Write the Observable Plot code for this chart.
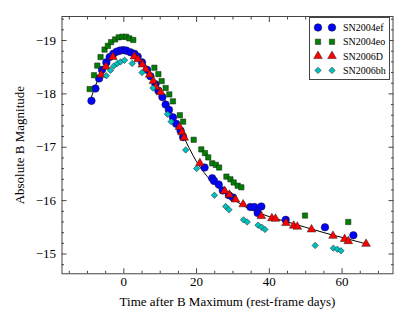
<!DOCTYPE html>
<html><head><meta charset="utf-8">
<script src="https://cdn.jsdelivr.net/npm/d3@7"></script>
<script src="https://cdn.jsdelivr.net/npm/@observablehq/plot@0.6"></script>
<style>
body{margin:0;background:#fff;}
#wrap{position:relative;width:415px;height:312px;font-family:"Liberation Serif","Times New Roman",serif;}
#legend{position:absolute;}
</style></head><body><div id="wrap"></div>
<script>
const seriesNames = ["SN2004ef", "SN2004eo", "SN2006D", "SN2006bh"];
const seriesColors = ["#0000ff", "#008000", "#ff0000", "#00bfbf"];
const seriesSymbols = ["circle", "square", "triangle", "diamond2"];
const seriesR = [3.8, 3.0, 3.2, 2.9];

const ef_t = [-8.9,-7.8,-6.8,-6.0,-4.8,-3.9,-2.9,-2.0,-1.1,-0.2,0.7,1.8,2.9,3.8,5.0,6.4,7.3,8.7,9.5,10.6,11.5,12.4,13.5,14.4,15.6,16.3,22.2,24.3,24.8,26.1,27.2,28.9,30.0,34.8,35.9,36.8,37.8,44.5,55.3,63.1];
const ef_m = [-17.87,-18.10,-18.29,-18.45,-18.59,-18.69,-18.75,-18.79,-18.81,-18.82,-18.81,-18.78,-18.75,-18.70,-18.59,-18.45,-18.33,-18.18,-18.06,-17.94,-17.80,-17.70,-17.56,-17.44,-17.31,-17.19,-16.62,-16.42,-16.37,-16.30,-16.19,-16.10,-16.06,-15.88,-15.88,-15.77,-15.89,-15.64,-15.50,-15.35];

const eo_t = [-9.4,-8.2,-7.3,-6.4,-5.3,-4.4,-3.5,-2.4,-1.4,-0.4,0.6,1.5,2.6,8.4,9.5,10.4,11.5,12.5,13.5,15.4,16.3,19.2,21.3,22.3,23.2,24.3,25.3,26.2,28.2,29.3,30.2,31.3,32.3,49.8,61.7];
const eo_m = [-18.09,-18.35,-18.53,-18.69,-18.83,-18.90,-18.97,-19.02,-19.06,-19.07,-19.07,-19.04,-19.01,-18.49,-18.37,-18.24,-18.11,-17.99,-17.86,-17.60,-17.48,-17.14,-16.96,-16.89,-16.81,-16.70,-16.67,-16.62,-16.45,-16.40,-16.34,-16.28,-16.25,-15.72,-15.60];

const d_t = [-6.2,-4.9,-3.0,2.9,3.9,5.1,6.0,7.1,8.1,8.8,10.1,15.3,16.0,16.6,20.9,27.7,29.0,30.7,32.8,37.8,40.7,41.7,44.6,46.7,47.7,51.6,57.5,60.7,61.7,66.6];
const d_m = [-18.36,-18.51,-18.69,-18.70,-18.65,-18.55,-18.46,-18.36,-18.24,-18.13,-18.03,-17.38,-17.28,-17.18,-16.70,-16.18,-16.11,-16.02,-15.93,-15.71,-15.67,-15.66,-15.58,-15.53,-15.51,-15.46,-15.34,-15.28,-15.24,-15.19];

const bh_t = [-4.8,-3.7,-2.8,-1.8,-0.9,0.2,2.3,5.0,8.0,12.0,13.0,17.0,20.0,24.9,28.0,28.9,32.9,33.9,36.9,37.9,38.8,52.6,57.6,58.7,59.7];
const bh_m = [-18.34,-18.44,-18.52,-18.57,-18.60,-18.63,-18.57,-18.40,-18.11,-17.62,-17.48,-16.95,-16.60,-16.10,-15.89,-15.83,-15.64,-15.60,-15.54,-15.50,-15.46,-15.16,-15.11,-15.09,-15.06];

const fit_t = [-9.4,-8,-6,-4,-2,0,2,4,6,8,10,12,14,16,18,20,22,24,26,28,30,33,36,40,45,50,55,60,66.6];
const fit_m = [-17.83,-18.12,-18.42,-18.64,-18.77,-18.80,-18.77,-18.66,-18.48,-18.26,-18.04,-17.79,-17.53,-17.26,-16.98,-16.73,-16.53,-16.37,-16.23,-16.12,-16.03,-15.90,-15.80,-15.70,-15.60,-15.50,-15.40,-15.31,-15.19];

const xDomain = [-17, 74];
const yDomain = [-19.45, -14.63];
const xMajor = [0, 20, 40, 60];
const xMinor = [-15,-10,-5,5,10,15,25,30,35,45,50,55,65,70];
const yMajor = [-19, -18, -17, -16, -15];
const yMinor = [-19.4,-19.2,-18.8,-18.6,-18.4,-18.2,-17.8,-17.6,-17.4,-17.2,-16.8,-16.6,-16.4,-16.2,-15.8,-15.6,-15.4,-15.2,-14.8];

const allT = [ef_t, eo_t, d_t, bh_t];
const allM = [ef_m, eo_m, d_m, bh_m];
const data = [];
seriesNames.forEach((s, k) => allT[k].forEach((t, i) => data.push({series: s, t, m: allM[k][i]})));
const fit = fit_t.map((t, i) => ({t, m: fit_m[i]}));

const W = 415, H = 312;
const dotMarks = seriesNames.map((s, k) => Plot.dot(data.filter(d => d.series === s), {
  x: "t", y: "m", symbol: () => seriesSymbols[k], fill: seriesColors[k],
  stroke: "#1a1a1a", strokeWidth: 0.5, r: seriesR[k]
}));

const plot = Plot.plot({
  width: W, height: H,
  marginLeft: 61.5, marginRight: 22.5, marginTop: 16, marginBottom: 38.75,
  style: {fontFamily: '"Liberation Serif","Times New Roman",serif', fontSize: "13px", color: "#000", background: "#fff"},
  x: {domain: xDomain},
  y: {domain: yDomain, reverse: true},
  symbol: {domain: seriesSymbols, range: seriesSymbols},
  marks: [
    Plot.line(fit, {x: "t", y: "m", stroke: "#000", strokeWidth: 1, curve: "catmull-rom"}),
    ...dotMarks,
    Plot.axisX(xMajor, {anchor: "bottom", tickSize: 0, tickPadding: 3, fontSize: 13, label: "Time after B Maximum (rest-frame days)", labelAnchor: "center", labelArrow: "none", labelOffset: 32}),
    Plot.axisY(yMajor, {anchor: "left", tickSize: 0, tickPadding: 6, fontSize: 13, tickFormat: d => "\u2212" + Math.abs(d), label: "Absolute B Magnitude", labelAnchor: "center", labelArrow: "none", labelOffset: 47}),
    Plot.axisX(xMajor, {anchor: "bottom", tickSize: 5, dy: -5, fill: "none", label: null, stroke: "#444"}),
    Plot.axisX(xMajor, {anchor: "top", tickSize: 5, dy: 5, fill: "none", label: null, stroke: "#444"}),
    Plot.axisX(xMinor, {anchor: "bottom", tickSize: 2.5, dy: -2.5, fill: "none", label: null, stroke: "#444"}),
    Plot.axisX(xMinor, {anchor: "top", tickSize: 2.5, dy: 2.5, fill: "none", label: null, stroke: "#444"}),
    Plot.axisY(yMajor, {anchor: "left", tickSize: 5, dx: 5, fill: "none", label: null, stroke: "#444"}),
    Plot.axisY(yMajor, {anchor: "right", tickSize: 5, dx: -5, fill: "none", label: null, stroke: "#444"}),
    Plot.axisY(yMinor, {anchor: "left", tickSize: 2.5, dx: 2.5, fill: "none", label: null, stroke: "#444"}),
    Plot.axisY(yMinor, {anchor: "right", tickSize: 2.5, dx: -2.5, fill: "none", label: null, stroke: "#444"}),
    Plot.frame({stroke: "#444", strokeWidth: 1})
  ]
});
const wrap = document.getElementById("wrap");
wrap.appendChild(plot);

// legend overlay
const lg = d3.select(wrap).append("svg").attr("id", "legend")
  .attr("width", 81).attr("height", 63)
  .style("left", "309px").style("top", "17px");
lg.append("rect").attr("x", 0.5).attr("y", 0.5).attr("width", 80).attr("height", 62)
  .attr("fill", "#fff").attr("stroke", "#444");
const symMap = {circle: d3.symbolCircle, square: d3.symbolSquare, triangle: d3.symbolTriangle, diamond2: d3.symbolDiamond2};
seriesNames.forEach((s, k) => {
  const cy = 10.5 + k * 14.3;
  const sym = d3.symbol(symMap[seriesSymbols[k]], Math.PI * seriesR[k] * seriesR[k]);
  [9, 23].forEach(cx => lg.append("path").attr("d", sym()).attr("transform", `translate(${cx},${cy})`)
    .attr("fill", seriesColors[k]).attr("stroke", "#1a1a1a").attr("stroke-width", 0.5));
  lg.append("text").attr("x", 34).attr("y", cy).attr("dy", "0.35em")
    .attr("font-size", 10).attr("font-family", '"Liberation Serif","Times New Roman",serif').text(s);
});
</script></body></html>
